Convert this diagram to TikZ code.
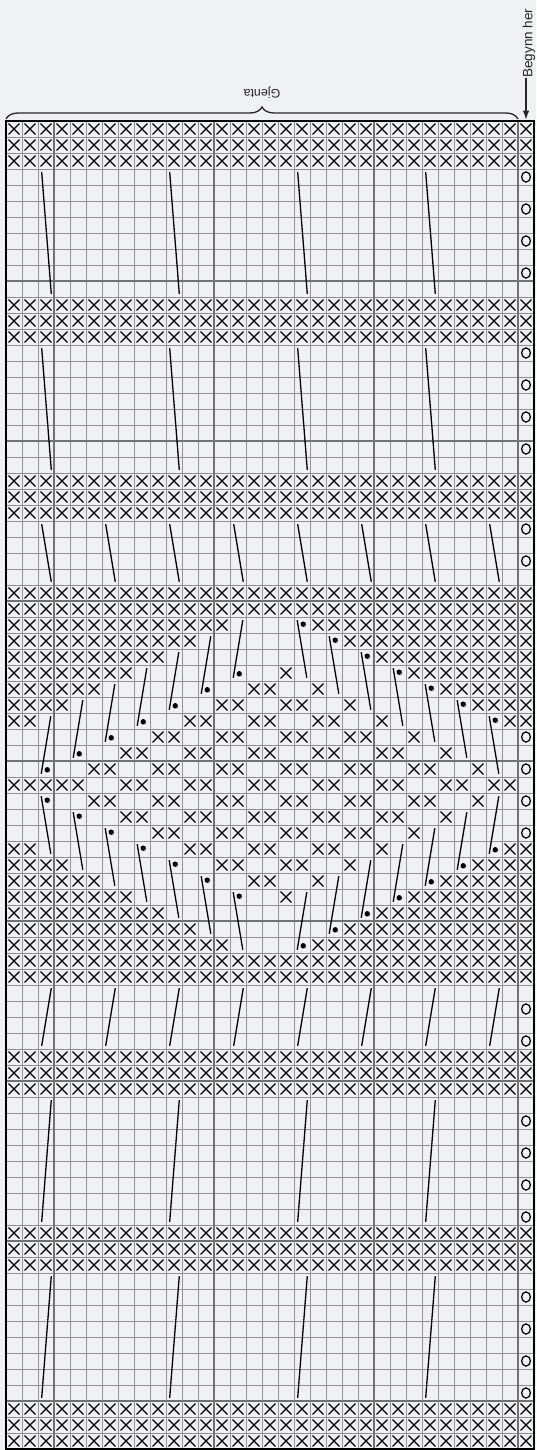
\documentclass[tikz,border=0pt]{standalone}
\usepackage{fontspec}
\setmainfont{Liberation Sans}
\usepackage{tikz}
\usetikzlibrary{positioning, arrows.meta, shapes.geometric, shapes.misc, decorations.pathreplacing}
\definecolor{chartBg}{HTML}{EEF2F5}
\definecolor{gridGray}{HTML}{939393}
\definecolor{majorGray}{HTML}{727272}

\begin{document}
\begin{tikzpicture}[
    x=16pt, y=16pt,
    >={Latex[length=9pt,width=6.5pt]},
    thingrid/.style={draw=gridGray, line width=0.8pt},
    thickgrid/.style={draw=majorGray, line width=1.8pt},
    edgesep/.style={draw=majorGray, line width=2.6pt},
    chartframe/.style={draw=black, line width=2.4pt},
    knit/.style={draw, cross out, line width=1.3pt, minimum size=9.6pt, inner sep=0pt},
    yarnover/.style={draw, ellipse, line width=1.25pt, minimum width=8.8pt, minimum height=10.2pt, inner sep=0pt},
    twist/.style={line width=1.3pt},
    bead/.style={fill, circle, inner sep=0pt, minimum size=5.5pt},
    replbl/.style={font=\fontsize{12.4}{14}\selectfont, text=black!85, inner sep=0pt},
    startlbl/.style={font=\fontsize{13.5}{15}\selectfont, text=black!85, inner sep=0pt},
    repbrace/.style={decorate, decoration={brace, amplitude=12pt}, line width=1.3pt, draw=black!85},
  ]
  \path[fill=chartBg, use as bounding box] (-0.375,-83.0625) rectangle (33.125,7.5625);

  \foreach \c in {1,...,32} \draw[thingrid] (\c,0) -- (\c,-83);
  \foreach \r in {1,...,82} \draw[thingrid] (0,-\r) -- (33,-\r);
  \foreach \c in {3,13,23} \draw[thickgrid] (\c,0) -- (\c,-83);
  \foreach \r in {10,20,...,80} \draw[thickgrid] (0,-\r) -- (33,-\r);
  \draw[edgesep] (32,0) -- (32,-83);

  % upper half, then the same mirrored about row 41
  \foreach \flip/\shift in {1/0,-1/-83} {
    \begin{scope}[cm={1,0,0,\flip,(0,\shift)}]
      \foreach \r in {0,1,2,11,12,13,22,23,24,29,30}
        \foreach \c in {0,...,32}
          \node[knit] at (\c+0.5,-\r-0.5) {};
      \foreach \r/\spans in {31/{0/13,19/32}, 32/{0/11,21/32}, 33/{0/9,23/32},
          34/{0/7,17/17,25/32}, 35/{0/5,15/16,19/19,27/32},
          36/{0/3,13/14,17/18,21/21,29/32}, 37/{0/1,11/12,15/16,19/20,23/23,31/32},
          38/{9/10,13/14,17/18,21/22,25/25}, 39/{7/8,11/12,15/16,19/20,23/24,27/27},
          40/{5/6,9/10,13/14,17/18,21/22,25/26,29/29}}
        \foreach \a/\b in \spans
          \foreach \c in {\a,...,\b}
            \node[knit] at (\c+0.5,-\r-0.5) {};
      \foreach \r in {3,5,7,9,14,16,18,20,25,27,38,40}
        \node[yarnover] at (32.5,-\r-0.5) {};
      \foreach \srow in {3,14}
        \foreach \c in {2,10,18,26}
          \draw[twist] (\c+0.23,-\srow-0.2) -- (\c+0.83,-\srow-7.8);
      \foreach \c in {2,6,...,30}
        \draw[twist] (\c+0.23,-25.2) -- (\c+0.83,-28.8);
      \foreach \k in {0,...,6} {
        \pgfmathtruncatemacro{\colL}{14-2*\k}
        \pgfmathtruncatemacro{\colR}{18+2*\k}
        \pgfmathtruncatemacro{\srow}{31+\k}
        \draw[twist] (\colL+0.8,-\srow-0.2) -- (\colL+0.2,-\srow-3.8);
        \node[bead] at (\colL+0.58,-\srow-3.55) {};
        \draw[twist] (\colR+0.2,-\srow-0.2) -- (\colR+0.8,-\srow-3.8);
        \node[bead] at (\colR+0.58,-\srow-0.45) {};
      }
    \end{scope}
  }
  \foreach \a/\b in {0/4,7/8,11/12,15/16,19/20,23/24,27/28,30/31}
    \foreach \c in {\a,...,\b}
      \node[knit] at (\c+0.5,-41.5) {};

  \draw[chartframe] (0,0) rectangle (33,-83);

  \coordinate (repL) at (0,0.125);
  \coordinate (repR) at (32,0.125);
  \draw[repbrace] (repL) -- (repR);
  \node[replbl, rotate=180] (gjenta) at (16,1.75) {Gjenta};
  \node[startlbl, rotate=90, anchor=west] (begynn) at (32.68,2.7) {Begynn her};
  \coordinate (startcell) at (32.5,0.08);
  \draw[->, line width=1.3pt, black!85] (startcell |- begynn.west) -- (startcell);
\end{tikzpicture}
\end{document}
